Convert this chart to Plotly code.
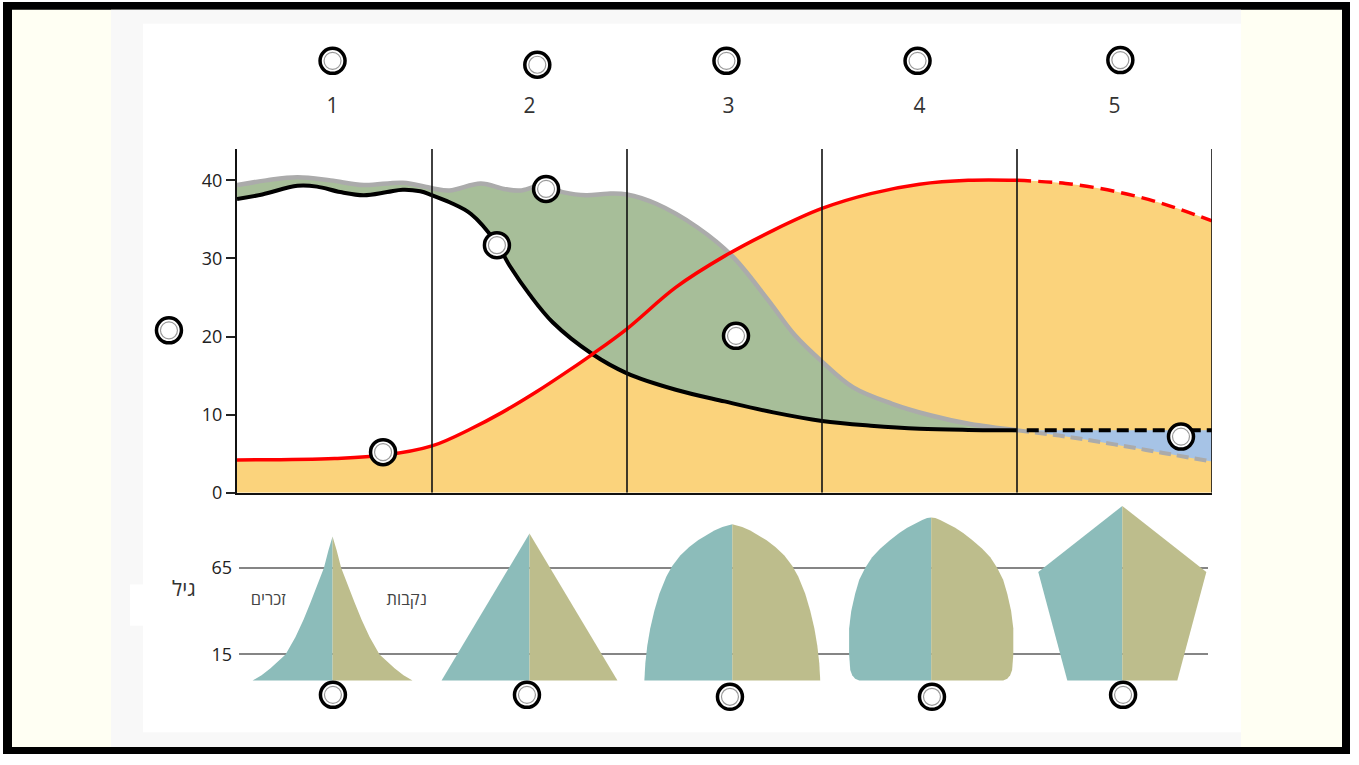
import plotly.graph_objects as go

W, H = 1359, 765


def fx(p):
    return p / W


def fy(p):
    return 1 - p / H


# ---- data ----
stages = [1, 2, 3, 4, 5]
stage_names = ["1", "2", "3", "4", "5"]
stage_label_x = [0.49, 1.5, 2.52, 3.5, 4.5]
stage_label_y = 49.3
rate_ticks = [0, 10, 20, 30, 40]
age_ticks = [15, 65]

# birth rate (grey edge of the green band)
birth_x = [0, 0.15, 0.31, 0.48, 0.65, 0.85, 1.0, 1.09, 1.25, 1.37, 1.45, 1.56, 1.67,
           1.79, 1.9, 2.0, 2.15, 2.36, 2.54, 2.72, 2.86, 3.0, 3.16, 3.36, 3.56, 3.76, 4.0]
birth_y = [39.4, 40.0, 40.4, 40.0, 39.4, 39.7, 39.0, 38.7, 39.6, 38.9, 38.7, 39.3, 38.5,
           38.1, 38.3, 38.2, 37.0, 34.0, 30.3, 24.8, 20.2, 16.8, 13.5, 11.4, 9.9, 8.8, 8.0]
birth5_x = [4.0, 4.25, 4.5, 4.75, 5.0]
birth5_y = [8.0, 7.2, 6.2, 5.1, 4.0]

# death rate (black)
death_x = [0, 0.13, 0.31, 0.41, 0.53, 0.65, 0.77, 0.85, 0.94, 1.0, 1.09, 1.2, 1.33, 1.4,
           1.5, 1.62, 1.82, 2.0, 2.25, 2.5, 2.75, 3.0, 3.25, 3.5, 3.75, 4.0]
death_y = [37.6, 38.2, 39.3, 39.2, 38.5, 38.1, 38.5, 38.8, 38.6, 38.1, 37.2, 35.7, 32.0, 29.0,
           25.4, 21.8, 17.8, 15.3, 13.2, 11.7, 10.3, 9.2, 8.6, 8.2, 8.05, 8.0]
death5_x = [4.05, 5.0]
death5_y = [8.0, 8.0]

# total population (red)
pop_x = [0, 0.5, 0.75, 1.0, 1.2, 1.36, 1.54, 1.71, 1.82, 2.0, 2.25, 2.5, 2.75, 3.0,
         3.25, 3.5, 3.75, 4.0, 4.25, 4.5, 4.75, 5.0]
pop_y = [4.2, 4.4, 4.8, 6.0, 8.2, 10.3, 13.0, 15.8, 17.7, 21.0, 26.3, 30.3, 33.6, 36.4,
         38.3, 39.5, 40.0, 40.0, 39.6, 38.6, 37.0, 34.8]
pop_known = 18  # points up to stage 4 are solid, the rest dashed

# age pyramids: half widths (x units) at given ages
pyr_centers = [0.49, 1.5, 2.54, 3.56, 4.54]
pyr_ages = [
    [0, 3, 7, 15, 25, 35, 45, 55, 65, 75, 83],
    [0, 84.7],
    [0, 10, 20, 30, 40, 50, 60, 66, 72, 77, 81, 84, 86.5, 88.5, 89.6, 90],
    [0, 1, 3, 6, 15, 30, 40, 50, 58, 65, 71, 76, 81, 85, 88, 90.5, 92.5, 93.6, 94],
    [0, 62.5, 100.6],
]
pyr_half = [
    [0.41, 0.364, 0.318, 0.241, 0.19, 0.149, 0.113, 0.077, 0.044, 0.021, 0],
    [0.451, 0],
    [0.451, 0.446, 0.436, 0.421, 0.4, 0.374, 0.338, 0.308, 0.267, 0.221, 0.174, 0.133,
     0.092, 0.051, 0.021, 0],
    [0.369, 0.39, 0.405, 0.415, 0.421, 0.421, 0.41, 0.39, 0.369, 0.338, 0.303, 0.262,
     0.21, 0.164, 0.123, 0.082, 0.046, 0.021, 0],
    [0.282, 0.431, 0],
]
sex_labels = ["זכרים", "נקבות"]
sex_label_x = [0.16, 0.87]
sex_label_age = [45.7, 45.7]

# blank answer circles
blank_x = [0.49, 1.54, 2.51, 3.49, 4.53, 1.585, 1.333, -0.349, 2.559, 0.749, 4.841]
blank_y = [55.3, 54.8, 55.3, 55.3, 55.4, 38.9, 31.7, 20.8, 20.1, 5.2, 7.2]
pyr_blank_x = [0.492, 1.487, 2.528, 3.564, 4.544]
pyr_blank_age = [-8.3, -8.3, -9.4, -9.4, -8.3]

ORANGE = "#FBD37C"
GREEN = "#A7BE99"
BLUE = "#A6C3E6"
GREYLINE = "#ABABAB"
TEAL = "#8CBCBA"
KHAKI = "#BDBD8C"
FONT = "Open Sans, DejaVu Sans, sans-serif"

# pixel geometry of the two panels
x0_px, x5_px = 237, 1212
px_per_x = (x5_px - x0_px) / 5
rate0_px, px_per_rate = 500, 7.925
age0_px, px_per_year = 690.4, 1.76

fig = go.Figure()

# population fill
fig.add_trace(go.Scatter(x=pop_x, y=pop_y, mode="lines", fill="tozeroy", fillcolor=ORANGE,
                         line=dict(width=0, shape="spline")))
# natural increase band
fig.add_trace(go.Scatter(x=death_x, y=death_y, mode="lines", line=dict(width=0, shape="spline")))
fig.add_trace(go.Scatter(x=birth_x, y=birth_y, mode="lines", fill="tonexty", fillcolor=GREEN,
                         line=dict(width=0, shape="spline")))
# natural decrease band (stage 5)
fig.add_trace(go.Scatter(x=death5_x, y=death5_y, mode="lines", line=dict(width=0)))
fig.add_trace(go.Scatter(x=birth5_x, y=birth5_y, mode="lines", fill="tonexty", fillcolor=BLUE,
                         line=dict(width=0, shape="spline")))

# lines
fig.add_trace(go.Scatter(x=birth_x, y=birth_y, mode="lines",
                         line=dict(color=GREYLINE, width=4.5, shape="spline")))
fig.add_trace(go.Scatter(x=birth5_x, y=birth5_y, mode="lines",
                         line=dict(color=GREYLINE, width=4, dash="12px,6px", shape="spline")))
fig.add_trace(go.Scatter(x=death_x, y=death_y, mode="lines",
                         line=dict(color="black", width=4, shape="spline")))
fig.add_trace(go.Scatter(x=death5_x, y=death5_y, mode="lines",
                         line=dict(color="black", width=4, dash="12px,6px")))
fig.add_trace(go.Scatter(x=pop_x[:pop_known], y=pop_y[:pop_known], mode="lines",
                         line=dict(color="#FF0000", width=3.5, shape="spline")))
fig.add_trace(go.Scatter(x=pop_x[pop_known - 1:], y=pop_y[pop_known - 1:], mode="lines",
                         line=dict(color="#FF0000", width=3.5, dash="14px,7px", shape="spline")))

# pyramids
for c, ages, half in zip(pyr_centers, pyr_ages, pyr_half):
    fig.add_trace(go.Scatter(x=[c - h for h in half] + [c], y=ages + [0], mode="lines",
                             fill="toself", fillcolor=TEAL, line=dict(width=0),
                             xaxis="x2", yaxis="y2"))
    fig.add_trace(go.Scatter(x=[c + h for h in half] + [c], y=ages + [0], mode="lines",
                             fill="toself", fillcolor=KHAKI, line=dict(width=0),
                             xaxis="x2", yaxis="y2"))

fig.add_trace(go.Scatter(x=sex_label_x, y=sex_label_age, mode="text", text=sex_labels,
                         xaxis="x2", yaxis="y2", cliponaxis=False,
                         textfont=dict(size=16.5, color="#444444", family=FONT)))

# stage numbers (full-page axes, same units as the rate chart)
fig.add_trace(go.Scatter(x=stage_label_x, y=[stage_label_y] * len(stage_names), mode="text",
                         text=stage_names, xaxis="x3", yaxis="y3",
                         textfont=dict(size=21, color="#333333", family=FONT)))

# blank circles
for xs, ys, ya in [(blank_x, blank_y, "y3"), (pyr_blank_x, pyr_blank_age, "y4")]:
    fig.add_trace(go.Scatter(x=xs, y=ys, mode="markers", xaxis="x3", yaxis=ya,
                             marker=dict(size=25, color="white", line=dict(color="black", width=3.5))))
    fig.add_trace(go.Scatter(x=xs, y=ys, mode="markers", xaxis="x3", yaxis=ya,
                             marker=dict(size=17, symbol="circle-open", color="#9A9A9A",
                                         line=dict(width=1.2))))

# stage boundary lines
shapes = [dict(type="line", xref="x", yref="y", x0=s, x1=s, y0=0, y1=44, layer="above",
               line=dict(color="#111111", width=1.6)) for s in stages]

# slide frame
shapes = [
    dict(type="rect", xref="paper", yref="paper", x0=fx(3), x1=fx(1350), y0=fy(765), y1=fy(2),
         fillcolor="black", line=dict(width=0), layer="below"),
    dict(type="rect", xref="paper", yref="paper", x0=fx(12), x1=fx(1342), y0=fy(758), y1=fy(10),
         fillcolor="#FFFFF3", line=dict(width=0), layer="below"),
    dict(type="rect", xref="paper", yref="paper", x0=fx(111), x1=fx(1241), y0=fy(758), y1=fy(10),
         fillcolor="#F8F8F8", line=dict(width=0), layer="below"),
    dict(type="rect", xref="paper", yref="paper", x0=fx(143), x1=fx(1241), y0=fy(743), y1=fy(24),
         fillcolor="white", line=dict(width=0), layer="below"),
    dict(type="rect", xref="paper", yref="paper", x0=fx(130), x1=fx(200), y0=fy(635), y1=fy(593),
         fillcolor="white", line=dict(width=0), layer="below"),
] + shapes

fig.update_layout(
    width=W, height=H,
    autosize=False,
    margin=dict(l=0, r=0, t=0, b=0),
    paper_bgcolor="white",
    plot_bgcolor="rgba(0,0,0,0)",
    showlegend=False,
    hovermode=False,
    font=dict(family=FONT, color="#222222"),
    shapes=shapes,
    xaxis=dict(domain=[fx(x0_px), fx(x5_px)], range=[0, 5], showgrid=False, zeroline=False,
               showticklabels=False, ticks="", showline=True, linecolor="#111111", linewidth=2,
               layer="above traces", anchor="y"),
    yaxis=dict(domain=[fy(rate0_px), fy(rate0_px - 44 * px_per_rate)], range=[0, 44],
               tickvals=rate_ticks, showgrid=False, zeroline=False, showline=True,
               linecolor="#111111", linewidth=2, ticks="outside", ticklen=9, tickwidth=1.5,
               tickcolor="#222222", tickfont=dict(size=18, color="#222222"),
               layer="above traces", anchor="x"),
    xaxis2=dict(domain=[fx(239), fx(1208)],
                range=[(239 - x0_px) / px_per_x, (1208 - x0_px) / px_per_x],
                visible=False, anchor="y2"),
    yaxis2=dict(domain=[fy(740), fy(505)],
                range=[(age0_px - 740) / px_per_year, (age0_px - 505) / px_per_year],
                tickvals=age_ticks, showgrid=True, gridcolor="#858585", gridwidth=1.6,
                zeroline=False, showline=False, ticks="", ticklabelstandoff=6,
                tickfont=dict(size=18, color="#222222"), anchor="x2"),
    # full-page helper axes for marks outside the panels
    xaxis3=dict(domain=[0, 1], range=[-x0_px / px_per_x, (W - x0_px) / px_per_x],
                visible=False, anchor="y3"),
    yaxis3=dict(domain=[0, 1], range=[(rate0_px - H) / px_per_rate, rate0_px / px_per_rate],
                visible=False, anchor="x3"),
    yaxis4=dict(domain=[0, 1], range=[(age0_px - H) / px_per_year, age0_px / px_per_year],
                visible=False, anchor="x3"),
    annotations=[dict(xref="paper", yref="paper", x=fx(170), y=fy(613), text="גיל", showarrow=False,
                      font=dict(size=21, color="#333333", family=FONT))],
)

# drop the default body margin so the figure sits at the page origin
page_fix = (
    "document.documentElement.style.margin='0';"
    "document.body.style.margin='0';"
    "document.documentElement.style.overflow='hidden';"
    "document.body.style.overflow='hidden';"
    "var gd=document.getElementById('{plot_id}');"
    "gd.style.display='block';"
    "gd.parentElement.style.height='765px';"
    "gd.parentElement.style.overflow='hidden';"
)
fig.write_html("out.html", config={"displayModeBar": False, "responsive": False},
               post_script=page_fix)
